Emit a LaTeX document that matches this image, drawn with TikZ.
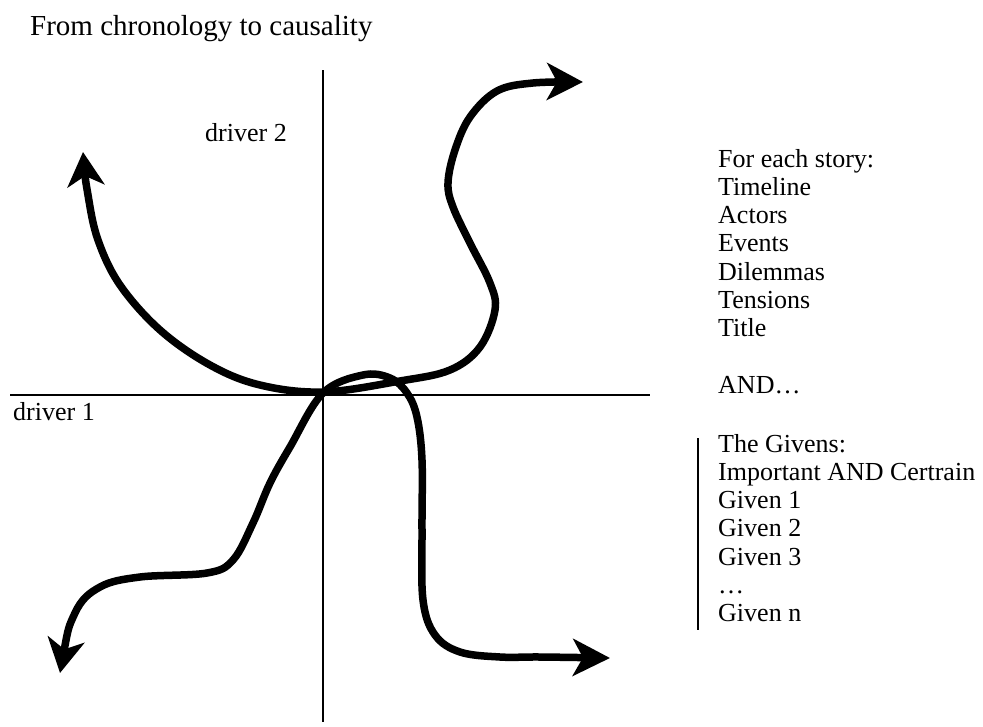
\documentclass[tikz,border=0pt]{standalone}
\usepackage{fontspec}
\setmainfont{Liberation Serif}
\usetikzlibrary{arrows.meta}
\begin{document}
\begin{tikzpicture}[x=1pt,y=-1pt,
  axis/.style={line width=2pt,black},
  wave/.style={line width=7.5pt,black,line cap=butt},
  lbl/.style={anchor=base west,inner sep=0pt,font=\fontsize{26}{28.3}\selectfont},
  ttl/.style={anchor=base west,inner sep=0pt,font=\fontsize{29}{33}\selectfont}]
\useasboundingbox (0,0) rectangle (983,726);
% axes
\coordinate (hl) at (10,395);
\coordinate (hr) at (650,395);
\coordinate (vt) at (323,70);
\coordinate (vb) at (323,722);
\draw[axis] (hl) -- (hr);
\draw[axis] (vt) -- (vb);
% curves
\draw[wave,{Stealth[length=34pt,width=37pt,inset=10pt]}-{Stealth[length=36pt,width=37pt,inset=10pt]}]
  plot[smooth,tension=0.6] coordinates {(83,152) (88,195) (98,240) (120,285) (160,330) (210,365) (260,385) (323,392) (400,381) (450,370) (480,347) (495,310) (490,283) (470,243) (453,207) (448,183) (455,150) (470,117) (497,91) (533,83) (583,82)};
\draw[wave,{Stealth[length=34pt,width=37pt,inset=10pt]}-{Stealth[length=37pt,width=37pt,inset=10pt]}]
  plot[smooth,tension=0.6] coordinates {(60,673) (75,613) (100,587) (140,577) (207,573) (233,560) (253,523) (270,483) (290,447) (323,393) (363,375) (390,378) (407,393) (417,417) (422,460) (422,530) (423,600) (435,635) (460,652) (500,657) (540,657) (610,658)};
% labels
\node[ttl] (title) at (30,35) {From chronology to causality};
\node[lbl] (d2) at (205,141) {driver 2};
\node[lbl] (d1) at (13,420) {driver 1};
\node[lbl] (r1) at (718,167) {For each story:};
\node[lbl] (r2) at (718,195.3) {Timeline};
\node[lbl] (r3) at (718,223.6) {Actors};
\node[lbl] (r4) at (718,251.9) {Events};
\node[lbl] (r5) at (718,280.2) {Dilemmas};
\node[lbl] (r6) at (718,308.5) {Tensions};
\node[lbl] (r7) at (718,336.8) {Title};
\node[lbl] (r8) at (718,393.4) {AND\ldots};
\node[lbl] (g1) at (718,452) {The Givens:};
\node[lbl] (g2) at (718,480.3) {Important AND Certrain};
\node[lbl] (g3) at (718,508.6) {Given 1};
\node[lbl] (g4) at (718,536.9) {Given 2};
\node[lbl] (g5) at (718,565.2) {Given 3};
\node[lbl] (g6) at (718,593.5) {\ldots};
\node[lbl] (g7) at (718,621.8) {Given n};
\coordinate (bt) at (698,438);
\coordinate (bb) at (698,630);
\draw[line width=2.5pt] (bt) -- (bb);
\end{tikzpicture}
\end{document}
